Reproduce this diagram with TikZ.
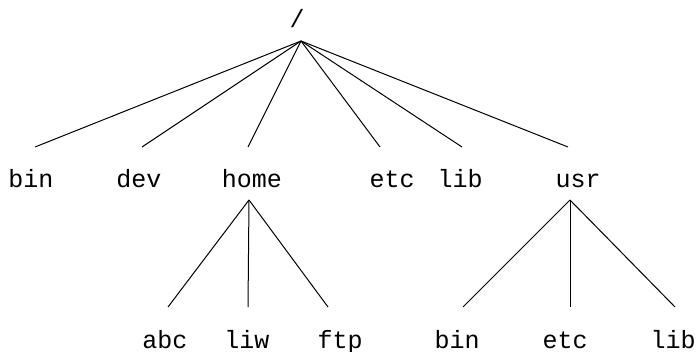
\documentclass[tikz,border=0pt]{standalone}
\usepackage{fontspec}
\newfontfamily\treefont{Liberation Mono}
\begin{document}
\begin{tikzpicture}[x=1pt,y=-1pt,
  lbl/.style={font=\treefont\fontsize{25}{25}\selectfont, anchor=base, inner sep=0pt, outer sep=0pt, text height=18pt, text depth=6pt},
  edge/.style={draw=black, line width=1pt}]
\useasboundingbox (0,0) rectangle (698,352);
% labels
\node[lbl] (root) at (297,28) {/};
\node[lbl] (bin) at (31,188) {bin};
\node[lbl] (dev) at (139,188) {dev};
\node[lbl] (home) at (252,188) {home};
\node[lbl] (etc) at (392,188) {etc};
\node[lbl] (lib) at (460,188) {lib};
\node[lbl] (usr) at (578,188) {usr};
\node[lbl] (abc) at (165,348) {abc};
\node[lbl] (liw) at (247,348) {liw};
\node[lbl] (ftp) at (340,348) {ftp};
\node[lbl] (ubin) at (457,348) {bin};
\node[lbl] (uetc) at (565,348) {etc};
\node[lbl] (ulib) at (673,348) {lib};
% connectors
\foreach \c/\dx in {bin/4, dev/3, home/-4, etc/-12, lib/2, usr/-10}
  \draw[edge] ([xshift=4pt,yshift=-7pt]root.south) -- ([xshift=\dx pt,yshift=23pt]\c.north);
\foreach \c/\dx in {abc/3, liw/1, ftp/-12}
  \draw[edge] ([xshift=-3pt,yshift=-6pt]home.south) -- ([xshift=\dx pt,yshift=23pt]\c.north);
\foreach \c/\dx in {ubin/6, uetc/5, ulib/2}
  \draw[edge] ([xshift=-8pt,yshift=-6pt]usr.south) -- ([xshift=\dx pt,yshift=23pt]\c.north);
\end{tikzpicture}
\end{document}
